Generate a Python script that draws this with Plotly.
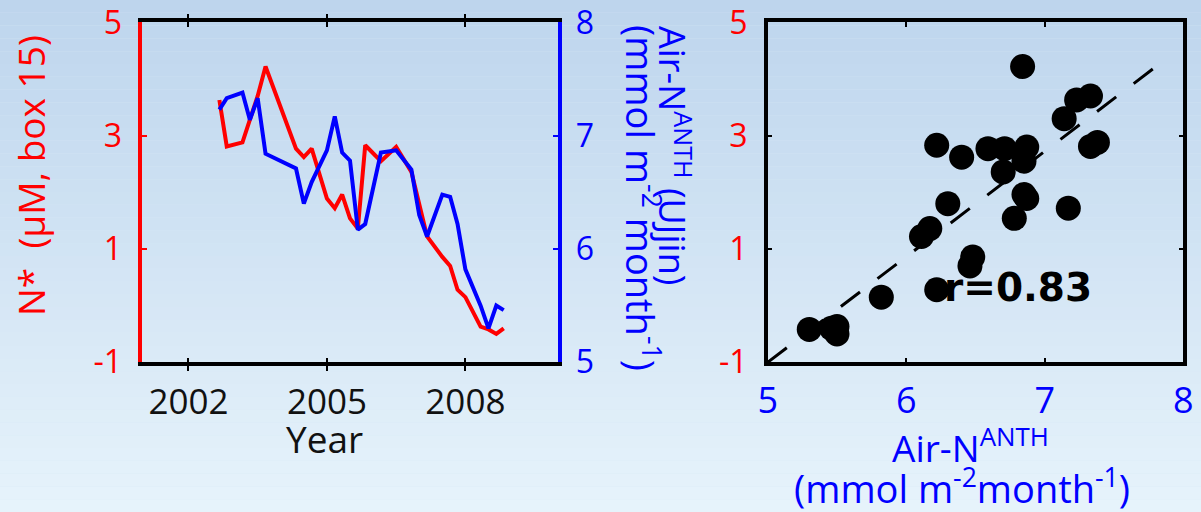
import plotly.graph_objects as go

# Time series sampled at irregular dates (decimal years)
years = [2002.67, 2002.83, 2003.17, 2003.33, 2003.50, 2003.67, 2004.33, 2004.50,
         2004.67, 2005.00, 2005.17, 2005.33, 2005.50, 2005.67, 2005.83, 2006.17,
         2006.50, 2006.83, 2007.00, 2007.17, 2007.50, 2007.67, 2007.83, 2008.00,
         2008.33, 2008.50, 2008.67, 2008.83]
# N* at box 15 (µM)
n_star = [3.63, 2.81, 2.88, 3.30, 3.70, 4.22, 2.77, 2.62,
          2.77, 1.89, 1.72, 1.96, 1.54, 1.36, 2.83, 2.55,
          2.80, 2.36, 1.80, 1.22, 0.86, 0.70, 0.28, 0.15,
          -0.37, -0.42, -0.50, -0.40]
# Atmospheric anthropogenic N deposition at Ulljin (mmol m-2 month-1)
air_n = [7.23, 7.33, 7.38, 7.14, 7.33, 6.84, 6.71, 6.40,
         6.59, 6.87, 7.17, 6.85, 6.78, 6.17, 6.22, 6.85,
         6.87, 6.70, 6.30, 6.11, 6.48, 6.46, 6.22, 5.82,
         5.50, 5.30, 5.50, 5.46]

# Fitted relationship shown as a dashed line
fit_x = [5.0, 7.82]
fit_y = [-1.0, 4.25]
r_value = 0.83

year_ticks = [2002, 2005, 2008]
nstar_ticks = [-1, 1, 3, 5]
nstar_labels = ["-1", "1", "3", "5"]
air_ticks = [5, 6, 7, 8]
air_labels = ["5", "6", "7", "8"]

RED = "#ff0000"
BLUE = "#0000ff"
FONT = "Open Sans"
W, H = 1201, 512
EPS = 1e-4

fig = go.Figure()

# Left panel: time series
fig.add_trace(go.Scatter(x=years, y=n_star, mode="lines",
                         line=dict(color=RED, width=4), xaxis="x", yaxis="y",
                         showlegend=False))
fig.add_trace(go.Scatter(x=years, y=air_n, mode="lines",
                         line=dict(color=BLUE, width=4), xaxis="x", yaxis="y2",
                         showlegend=False))

# Right panel: N* versus Air-N scatter
fig.add_trace(go.Scatter(x=fit_x, y=fit_y, mode="lines",
                         line=dict(color="black", width=3, dash="24px,22px"),
                         xaxis="x3", yaxis="y3", showlegend=False))
fig.add_trace(go.Scatter(x=air_n, y=n_star, mode="markers",
                         marker=dict(color="black", size=25, line=dict(width=0)),
                         xaxis="x3", yaxis="y3", showlegend=False))

# Sky-like vertical gradient behind everything
top = (190, 213, 237)
bottom = (230, 243, 251)
n_band = 40
shapes = []
for i in range(n_band):
    f = i / (n_band - 1)
    c = tuple(int(round(top[k] + (bottom[k] - top[k]) * f)) for k in range(3))
    shapes.append(dict(type="rect", xref="paper", yref="paper", layer="below",
                       x0=0, x1=1, y0=1 - (i + 1) / n_band, y1=1 - i / n_band,
                       fillcolor="rgb(%d,%d,%d)" % c, line=dict(width=0)))

LX = [142.3 / W, 557.7 / W]
RX = [767.7 / W, 1183.3 / W]
YD = [1 - 362.3 / H, 1 - 22.3 / H]

tick_x = dict(family=FONT, size=35, color="#111111")
tick_y = dict(family=FONT, size=32)
common = dict(showgrid=False, zeroline=False, ticks="inside", ticklen=5,
              tickwidth=2, ticklabeloverflow="allow", automargin=False)

fig.update_layout(
    width=W, height=H,
    margin=dict(l=0, r=0, t=0, b=0, autoexpand=False),
    paper_bgcolor="rgb(214,231,245)",
    plot_bgcolor="rgba(0,0,0,0)",
    shapes=shapes,
    xaxis=dict(common, domain=LX, range=[2001, 2010], tickvals=year_ticks,
               ticktext=[str(v) for v in year_ticks], tickfont=tick_x,
               showline=True, linecolor="black", linewidth=3.5, mirror="allticks",
               tickcolor="black", ticklabelstandoff=6),
    yaxis=dict(common, domain=YD, range=[-1 - EPS, 5 + EPS], tickvals=nstar_ticks,
               ticktext=nstar_labels, tickfont=dict(tick_y, color=RED),
               showline=True, linecolor=RED, linewidth=3.5,
               tickcolor=RED, ticklabelstandoff=10),
    yaxis2=dict(common, overlaying="y", side="right", range=[5 - EPS, 8 + EPS],
                tickvals=air_ticks, ticktext=air_labels,
                tickfont=dict(tick_y, color=BLUE),
                showline=True, linecolor=BLUE, linewidth=3.5,
                tickcolor=BLUE, ticklabelstandoff=8),
    xaxis3=dict(common, domain=RX, anchor="y3", range=[5 - EPS, 8 + EPS],
                tickvals=air_ticks, ticktext=air_labels,
                tickfont=dict(family=FONT, size=36, color=BLUE),
                showline=True, linecolor="black", linewidth=3.5, mirror="allticks",
                tickcolor="black", ticklabelstandoff=4),
    yaxis3=dict(common, domain=YD, anchor="x3", range=[-1 - EPS, 5 + EPS],
                tickvals=nstar_ticks, ticktext=nstar_labels,
                tickfont=dict(tick_y, color=RED),
                showline=True, linecolor="black", linewidth=3.5, mirror="allticks",
                tickcolor="black", ticklabelstandoff=10),
    annotations=[
        dict(text="N*&nbsp; (μM, box 15)", xref="paper", yref="paper",
             x=30 / W, y=1 - 176 / H, xanchor="center", yanchor="middle",
             textangle=-90, showarrow=False,
             font=dict(family=FONT, size=37, color=RED)),
        dict(text="Air-N<sup>ANTH</sup> (UJjin)",
             xref="paper", yref="paper", x=675 / W, y=1 - 155 / H,
             xanchor="center", yanchor="middle",
             textangle=90, showarrow=False,
             font=dict(family=FONT, size=36, color=BLUE)),
        dict(text="(mmol m<sup>-2</sup> month<sup>-1</sup>)",
             xref="paper", yref="paper", x=643 / W, y=1 - 198 / H,
             xanchor="center", yanchor="middle",
             textangle=90, showarrow=False,
             font=dict(family=FONT, size=38, color=BLUE)),
        dict(text="Year", xref="paper", yref="paper", x=324 / W, y=1 - 438 / H,
             xanchor="center", yanchor="middle", showarrow=False,
             font=dict(family=FONT, size=37, color="#111111")),
        dict(text="Air-N<sup>ANTH</sup>",
             xref="paper", yref="paper", x=970 / W, y=1 - 445 / H,
             xanchor="center", yanchor="middle", showarrow=False,
             font=dict(family=FONT, size=37, color=BLUE)),
        dict(text="(mmol m<sup>-2</sup>month<sup>-1</sup>)",
             xref="paper", yref="paper", x=962 / W, y=1 - 486 / H,
             xanchor="center", yanchor="middle", showarrow=False,
             font=dict(family=FONT, size=38, color=BLUE)),
        dict(text="<b>r=%.2f</b>" % r_value, xref="x3", yref="y3",
             x=6.81, y=0.32, xanchor="center", yanchor="middle", showarrow=False,
             font=dict(family="DejaVu Sans", size=39, color="black")),
    ],
)

fig.write_html("out.html")
